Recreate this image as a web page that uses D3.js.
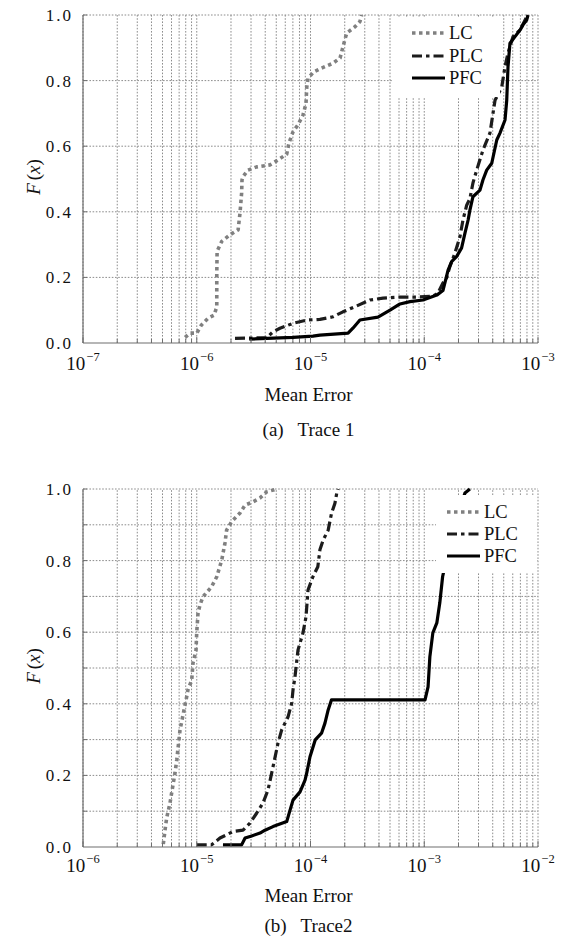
<!DOCTYPE html>
<html><head><meta charset="utf-8">
<script src="https://cdn.jsdelivr.net/npm/d3@7"></script>
<style>
body{margin:0;background:#fff}
svg{display:block}
</style>
</head><body>
<svg id="c" width="569" height="936" font-family="'Liberation Serif', 'DejaVu Serif', 'Times New Roman', serif"></svg>
<script>
// ---------- data ----------
const seriesNames = ["LC", "PLC", "PFC"];
const yTickLabels = [0, 0.2, 0.4, 0.6, 0.8, 1.0];
const yGridTrace1 = [0.2, 0.4, 0.6, 0.8, 1.0];
const yGridTrace2 = [0.1, 0.2, 0.3, 0.4, 0.5, 0.6, 0.7, 0.8, 0.9, 1.0];
const xExpTrace1 = [-7, -6, -5, -4, -3];
const xExpTrace2 = [-6, -5, -4, -3, -2];
const captions = ["(a)   Trace 1", "(b)   Trace2"];
const xLabel = "Mean Error";

// Trace 1 : [mean error, F(x)]
const trace1LC = [[7.9e-7,0.017],[8.7e-7,0.03],[1.0e-6,0.03],[1.1e-6,0.055],[1.26e-6,0.076],[1.42e-6,0.085],[1.5e-6,0.11],[1.5e-6,0.21],[1.51e-6,0.28],[1.66e-6,0.31],[1.96e-6,0.33],[2.31e-6,0.345],[2.4e-6,0.396],[2.48e-6,0.457],[2.5e-6,0.497],[2.55e-6,0.507],[2.82e-6,0.527],[3.37e-6,0.537],[4.4e-6,0.543],[5.18e-6,0.558],[6.18e-6,0.576],[6.47e-6,0.61],[7.02e-6,0.644],[7.76e-6,0.665],[8.59e-6,0.695],[9.13e-6,0.73],[9.27e-6,0.78],[9.51e-6,0.807],[1.07e-5,0.827],[1.25e-5,0.838],[1.58e-5,0.853],[1.82e-5,0.869],[1.93e-5,0.903],[2.08e-5,0.945],[2.46e-5,0.964],[2.72e-5,0.98],[2.82e-5,1.0]];
const trace1PLC = [[2.17e-6,0.014],[4.12e-6,0.016],[4.68e-6,0.034],[5.39e-6,0.045],[7.02e-6,0.06],[9.26e-6,0.07],[1.21e-5,0.072],[1.58e-5,0.08],[1.93e-5,0.095],[2.55e-5,0.113],[3.33e-5,0.131],[4.34e-5,0.137],[6.12e-5,0.14],[8.59e-5,0.14],[1.19e-4,0.143],[1.32e-4,0.152],[1.46e-4,0.183],[1.57e-4,0.198],[1.68e-4,0.233],[1.86e-4,0.274],[2.06e-4,0.324],[2.19e-4,0.375],[2.36e-4,0.42],[2.52e-4,0.44],[2.68e-4,0.488],[2.89e-4,0.527],[3.28e-4,0.588],[3.78e-4,0.64],[4.19e-4,0.74],[4.8e-4,0.78],[5.13e-4,0.843],[5.45e-4,0.884],[6.03e-4,0.934],[6.95e-4,0.954],[7.96e-4,0.995],[8.17e-4,1.0]];
const trace1PFC = [[2.9e-6,0.012],[7.02e-6,0.017],[1.05e-5,0.021],[1.21e-5,0.024],[2.14e-5,0.03],[2.36e-5,0.045],[2.72e-5,0.07],[3.92e-5,0.079],[5.0e-5,0.1],[6.12e-5,0.119],[7.5e-5,0.126],[9.75e-5,0.131],[1.29e-4,0.146],[1.46e-4,0.16],[1.62e-4,0.222],[1.74e-4,0.248],[1.93e-4,0.264],[2.13e-4,0.29],[2.28e-4,0.335],[2.43e-4,0.375],[2.52e-4,0.405],[2.68e-4,0.446],[3.09e-4,0.466],[3.28e-4,0.497],[3.54e-4,0.527],[3.92e-4,0.548],[4.34e-4,0.619],[4.63e-4,0.64],[5.13e-4,0.68],[5.31e-4,0.74],[5.45e-4,0.843],[5.67e-4,0.914],[6.28e-4,0.934],[6.95e-4,0.954],[7.38e-4,0.97],[7.96e-4,0.985],[8.17e-4,1.0]];

// Trace 2
const trace2LC = [[5.08e-6,0.008],[5.26e-6,0.047],[5.44e-6,0.081],[5.82e-6,0.123],[6.18e-6,0.173],[6.44e-6,0.207],[6.67e-6,0.243],[7.13e-6,0.327],[7.73e-6,0.383],[8.16e-6,0.42],[8.37e-6,0.439],[9.03e-6,0.466],[9.27e-6,0.514],[9.85e-6,0.55],[9.99e-6,0.598],[1.026e-5,0.654],[1.068e-5,0.676],[1.135e-5,0.699],[1.35e-5,0.727],[1.5e-5,0.755],[1.66e-5,0.802],[1.77e-5,0.849],[1.83e-5,0.885],[2.03e-5,0.909],[2.4e-5,0.933],[2.66e-5,0.955],[3.12e-5,0.964],[3.6e-5,0.975],[4.12e-5,0.992],[5.05e-5,1.0]];
const trace2PLC = [[9.99e-6,0.006],[1.35e-5,0.006],[1.6e-5,0.025],[2.08e-5,0.043],[2.55e-5,0.047],[2.94e-5,0.067],[3.37e-5,0.095],[3.82e-5,0.123],[4.23e-5,0.159],[4.56e-5,0.207],[4.88e-5,0.251],[5.18e-5,0.29],[5.58e-5,0.327],[6.34e-5,0.363],[6.84e-5,0.402],[7.02e-5,0.439],[7.31e-5,0.476],[7.76e-5,0.55],[8.59e-5,0.598],[9.13e-5,0.643],[9.51e-5,0.718],[1.05e-4,0.755],[1.16e-4,0.783],[1.21e-4,0.83],[1.29e-4,0.857],[1.43e-4,0.885],[1.53e-4,0.932],[1.64e-4,0.96],[1.7e-4,0.988],[1.75e-4,1.0]];
const trace2PFC = [[1.7e-5,0.006],[2.48e-5,0.006],[2.66e-5,0.025],[3.04e-5,0.031],[3.6e-5,0.039],[3.98e-5,0.047],[4.68e-5,0.057],[6.18e-5,0.071],[6.61e-5,0.103],[7.02e-5,0.131],[8.09e-5,0.154],[8.95e-5,0.187],[9.27e-5,0.207],[9.9e-5,0.252],[1.1e-4,0.299],[1.25e-4,0.318],[1.34e-4,0.346],[1.43e-4,0.383],[1.53e-4,0.411],[1.016e-3,0.411],[1.08e-3,0.447],[1.12e-3,0.531],[1.19e-3,0.598],[1.29e-3,0.626],[1.37e-3,0.682],[1.45e-3,0.755],[1.68e-3,0.85],[1.98e-3,0.93],[2.28e-3,0.989],[2.52e-3,1.0]];

// ---------- layout / styles ----------
const FONT = "'Liberation Serif', 'DejaVu Serif', 'Times New Roman', serif";
const styles = {
  LC:  {color:"#808080", width:3.6, dash:"3.5,3.5"},
  PLC: {color:"#1c1c1c", width:3.2, dash:"10,4,3.5,4"},
  PFC: {color:"#000000", width:3.2, dash:null}
};
const panels = [
  {top:15, bottom:343, exps:xExpTrace1, grid:yGridTrace1, data:[trace1LC,trace1PLC,trace1PFC],
   legend:{x:392,y:17,w:108,h:80,rowY:[33,56,78],sx:412,tx:449},
   tickY:370, xlabelY:401, capY:436, caption:captions[0]},
  {top:489, bottom:847, exps:xExpTrace2, grid:yGridTrace2, data:[trace2LC,trace2PLC,trace2PFC],
   legend:{x:436,y:495,w:100,h:78,rowY:[512,534,556],sx:447,tx:484},
   tickY:872, xlabelY:902, capY:932, caption:captions[1]}
];
const left = 83, right = 538;
const svg = d3.select("#c");

panels.forEach(p => {
  const x = d3.scaleLog().domain([Math.pow(10,p.exps[0]), Math.pow(10,p.exps[p.exps.length-1])]).range([left, right]);
  const y = d3.scaleLinear().domain([0,1]).range([p.bottom, p.top]);
  const g = svg.append("g").attr("font-family", FONT);

  // grid
  const gridCol = "#8c8c8c", gridDash = "1.6,1.6";
  g.append("g").selectAll("line").data(x.ticks()).join("line")
    .attr("x1", d => x(d)).attr("x2", d => x(d))
    .attr("y1", y(0)).attr("y2", y(1))
    .attr("stroke", gridCol).attr("stroke-width", 1).attr("stroke-dasharray", gridDash);
  g.append("g").selectAll("line").data(p.grid).join("line")
    .attr("x1", left).attr("x2", right)
    .attr("y1", d => y(d)).attr("y2", d => y(d))
    .attr("stroke", gridCol).attr("stroke-width", 1).attr("stroke-dasharray", gridDash);

  // series
  const line = d3.line().x(d => x(d[0])).y(d => y(d[1]));
  seriesNames.forEach((name, i) => {
    const s = styles[name];
    g.append("path").datum(p.data[i]).attr("d", line)
      .attr("fill", "none").attr("stroke", s.color).attr("stroke-width", s.width)
      .attr("stroke-dasharray", s.dash).attr("stroke-linejoin", "round");
  });

  // legend
  const L = p.legend;
  g.append("rect").attr("x", L.x).attr("y", L.y).attr("width", L.w).attr("height", L.h).attr("fill", "#fff");
  seriesNames.forEach((name, i) => {
    const s = styles[name];
    g.append("line").attr("x1", L.sx).attr("x2", L.sx + 33).attr("y1", L.rowY[i]).attr("y2", L.rowY[i])
      .attr("stroke", s.color).attr("stroke-width", s.width).attr("stroke-dasharray", s.dash);
    g.append("text").attr("x", L.tx).attr("y", L.rowY[i]).attr("dy", "0.35em")
      .attr("font-family", FONT).attr("fill", "#111")
      .attr("font-size", 18.5).text(name);
  });

  // axes lines
  const axCol = "#6e6e6e";
  g.append("line").attr("x1", left).attr("x2", left).attr("y1", y(0)).attr("y2", y(1)).attr("stroke", axCol).attr("stroke-width", 1.2);
  g.append("line").attr("x1", left).attr("x2", right).attr("y1", y(0)).attr("y2", y(0)).attr("stroke", axCol).attr("stroke-width", 1.2);
  const majors = p.exps.map(e => Math.pow(10, e));
  g.append("g").selectAll("line").data(x.ticks()).join("line")
    .attr("x1", d => x(d)).attr("x2", d => x(d))
    .attr("y1", y(0)).attr("y2", d => y(0) - (majors.some(m => Math.abs(m - d) / m < 1e-6) ? 6 : 4))
    .attr("stroke", axCol).attr("stroke-width", 1);
  g.append("g").selectAll("line").data(p.grid).join("line")
    .attr("x1", left).attr("x2", left + 4).attr("y1", d => y(d)).attr("y2", d => y(d))
    .attr("stroke", axCol).attr("stroke-width", 1);

  // y tick labels
  g.append("g").selectAll("text").data(yTickLabels).join("text")
    .attr("x", 73).attr("y", d => y(d)).attr("dy", "0.35em").attr("text-anchor", "end")
    .attr("font-family", FONT).attr("fill", "#111")
    .attr("font-size", 17).attr("letter-spacing", "2px")
    .text(d => d3.format(".1f")(d));

  // x tick labels 10^e
  p.exps.forEach(e => {
    const t = g.append("text").attr("x", x(Math.pow(10, e))).attr("y", p.tickY).attr("text-anchor", "middle")
      .attr("font-family", FONT).attr("fill", "#111");
    t.append("tspan").attr("font-size", 19).text("10");
    t.append("tspan").attr("font-size", 12.5).attr("dy", -9).attr("dx", 1).text("\u2212" + Math.abs(e));
  });

  // axis titles
  g.append("text").attr("x", (left + right) / 2 - 2).attr("y", p.xlabelY).attr("text-anchor", "middle")
    .attr("font-family", FONT).attr("fill", "#111")
    .attr("font-size", 19).text(xLabel);
  const yl = g.append("text").attr("transform", `translate(40,${(p.top + p.bottom) / 2 - 2}) rotate(-90)`)
    .attr("font-family", FONT).attr("fill", "#111")
    .attr("text-anchor", "middle").attr("font-size", 19);
  yl.append("tspan").attr("font-style", "italic").text("F");
  yl.append("tspan").attr("dx", 3).text("(");
  yl.append("tspan").attr("font-style", "italic").text("x");
  yl.append("tspan").text(")");

  g.append("text").attr("x", (left + right) / 2 - 2).attr("y", p.capY).attr("text-anchor", "middle")
    .attr("font-family", FONT).attr("fill", "#111")
    .attr("font-size", 19).style("white-space", "pre").text(p.caption);
});
</script>
</body></html>
